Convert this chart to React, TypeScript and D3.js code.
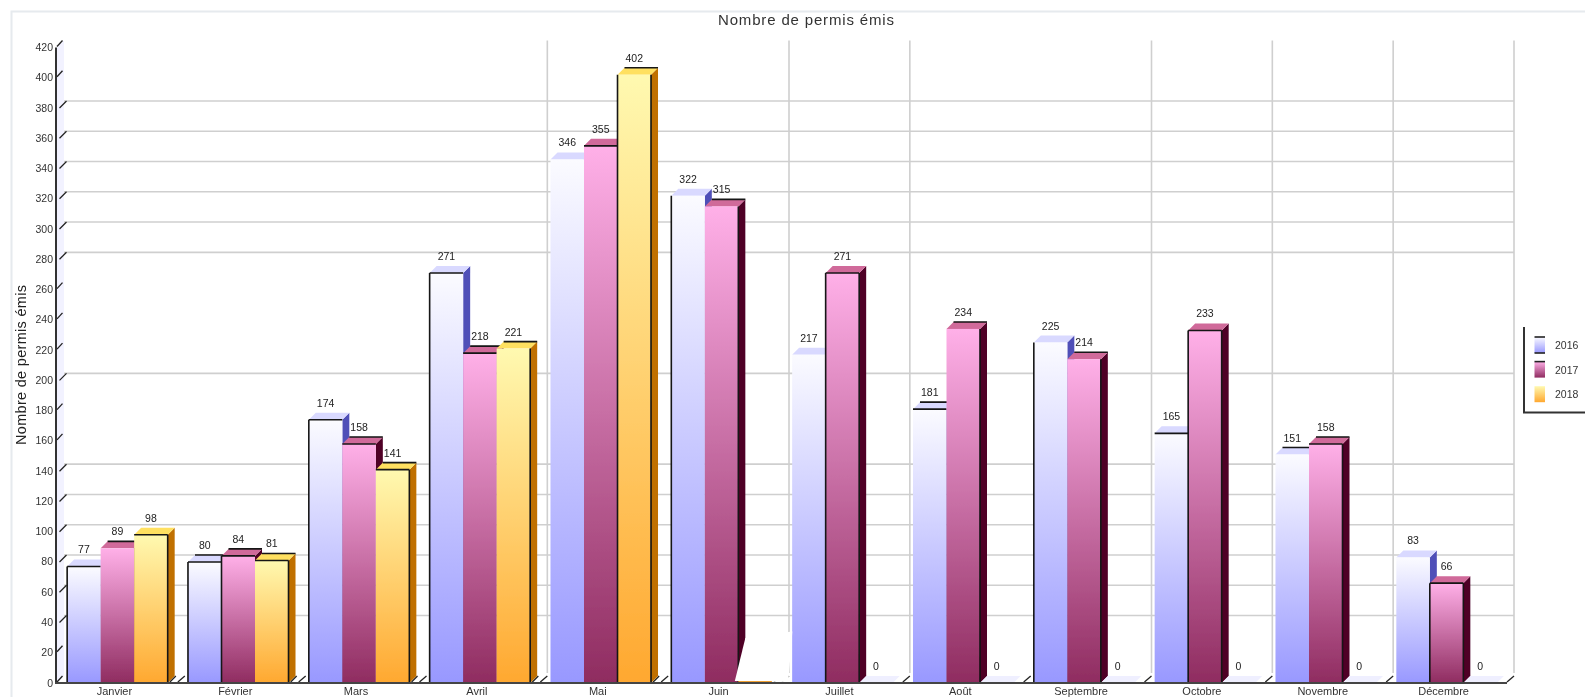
import React from "react";
import * as d3 from "d3";

const months = ["Janvier","Février","Mars","Avril","Mai","Juin","Juillet","Août","Septembre","Octobre","Novembre","Décembre"];
const years = ["2016","2017","2018"];
const values2016 = [77,80,174,271,346,322,217,181,225,165,151,83];
const values2017 = [89,84,158,218,355,315,271,234,214,233,158,66];
const values2018 = [98,81,141,221,402,0,0,0,0,0,0,0];
const series = [values2016, values2017, values2018];
const yTicks = d3.range(0, 421, 20);
const gridValues = [380,360,340,320,300,280,200,140,120,100,80,60,40];
const gridMonths = [4,6,7,9,10,11,12];

// which black edges survive in the (resampled) reference: "month-series"
const leftEdge = ["0-0","1-0","2-0","3-0","5-0","8-0","1-1","6-1","9-1","11-1","4-2"];
const rightEdge = ["0-2","1-2","2-2","3-2","4-2","5-1","6-1","7-1","8-1","9-1","10-1","11-1"];
const noFrontTop = ["0-1","4-0","4-2","5-0","5-1","6-0","8-0","10-0","11-0","3-2","7-1","8-1"];
const backTop = ["0-1","1-0","1-1","1-2","2-1","2-2","3-1","3-2","4-2","5-1","7-0","7-1","8-1","10-0","10-1"];

const W = 1585, H = 697;
const DX = 7, DY = 7;
const FONT = "'Liberation Sans', Arial, sans-serif";
const faces = [
  { id: "s0", top: "#fbfbff", bottom: "#9898ff", cap: "#d9d9ff", side: "#5050b8" },
  { id: "s1", top: "#ffb0e8", bottom: "#8f2c60", cap: "#d06a9a", side: "#4f0028" },
  { id: "s2", top: "#fff9b0", bottom: "#ffa830", cap: "#ffe060", side: "#c07000" },
];

const x = d3.scaleBand<string>().domain(months).range([57, 1507]).paddingInner(0.168).paddingOuter(0.084);
const sub = d3.scaleBand<string>().domain(years).range([0, x.bandwidth()]);
const y = d3.scaleLinear().domain([0, 420]).range([683, 47.5]);
const y0 = y(0);
const bw = sub.bandwidth();
const step = x.step();
const boundary = (k: number) => 57 + k * step;
const pts = (a: number[][]) => a.map((p) => p.join(",")).join(" ");
const INK = "#141414";

export default function App() {
  const bars = months.flatMap((m, mi) =>
    years.map((yr, si) => ({ m, mi, yr, si, v: series[si][mi], key: `${mi}-${si}`, bx: (x(m) as number) + (sub(yr) as number), by: y(series[si][mi]) }))
  );
  const juinX = (x("Juin") as number) + (sub("2018") as number);
  return (
    <svg width={W} height={H} viewBox={`0 0 ${W} ${H}`} style={{ position: "absolute", left: 0, top: 0, display: "block", background: "#fff" }} fontFamily={FONT}>
      <defs>
        {faces.map((f) => (
          <linearGradient key={f.id} id={f.id} x1="0" y1="0" x2="0" y2="1">
            <stop offset="0" stopColor={f.top} />
            <stop offset="1" stopColor={f.bottom} />
          </linearGradient>
        ))}
        <filter id="soft" x="-2%" y="-2%" width="104%" height="104%"><feGaussianBlur stdDeviation="0.55" /></filter>
      </defs>
      <g filter="url(#soft)">
        <path d={`M11.5,697V11.5H${W}`} fill="none" stroke="#e6eaee" strokeWidth={2} />
        <text x={806} y={25} textAnchor="middle" fontSize={15} textLength={176} lengthAdjust="spacing" fill="#333">Nombre de permis émis</text>
        <text transform={`translate(25.5,365) rotate(-90)`} textAnchor="middle" fontSize={14.5} textLength={160} lengthAdjust="spacing" fill="#222">Nombre de permis émis</text>

        <polygon points={pts([[57, y(420)], [57 + DX, y(420) - DY], [57 + DX, y0 - DY], [57, y0]])} fill="#f2f2ff" />

        {gridValues.map((v) => (
          <line key={v} x1={57 + DX} x2={boundary(12) + DX} y1={y(v) - DY} y2={y(v) - DY} stroke="#cfcfcf" strokeWidth={1.6} />
        ))}
        {gridMonths.map((k) => (
          <line key={k} x1={boundary(k) + DX} x2={boundary(k) + DX} y1={y(420) - DY} y2={y0 - DY - 3} stroke="#cfcfcf" strokeWidth={1.6} />
        ))}

        {yTicks.map((v) => {
          const g = gridValues.includes(v);
          return (
            <g key={v}>
              <line x1={g ? 59.5 : 57} x2={g ? 66.5 : 62.5} y1={y(v) + (g ? 0 : -1)} y2={y(v) - DY} stroke="#222" strokeWidth={1.3} />
              <text x={53} y={y(v) + 3.5} textAnchor="end" fontSize={10.5} fill="#333">{v}</text>
            </g>
          );
        })}

        {d3.range(1, 13).map((k) => (
          <g key={k}>
            <line x1={boundary(k)} x2={boundary(k) + DX} y1={y0 - 1} y2={y0 - DY} stroke="#222" strokeWidth={1.3} />
            {k <= 6 && <line x1={boundary(k) - 8} x2={boundary(k) - 2} y1={y0 - 1} y2={y0 - DY} stroke="#222" strokeWidth={1.3} />}
          </g>
        ))}

        {bars.map((b) => {
          const f = faces[b.si];
          if (b.v === 0) {
            return <polygon key={b.key} points={pts([[b.bx, y0], [b.bx + DX, y0 - DY], [b.bx + bw + DX, y0 - DY], [b.bx + bw, y0]])} fill="#efefff" />;
          }
          return (
            <g key={b.key}>
              <polygon points={pts([[b.bx + bw, b.by], [b.bx + bw + DX, b.by - DY], [b.bx + bw + DX, y0 - DY], [b.bx + bw, y0]])} fill={f.side} />
              <polygon points={pts([[b.bx, b.by], [b.bx + DX, b.by - DY], [b.bx + bw + DX, b.by - DY], [b.bx + bw, b.by]])} fill={f.cap} />
              <rect x={b.bx} y={b.by} width={bw} height={y0 - b.by} fill={`url(#${f.id})`} />
              {leftEdge.includes(b.key) && <line x1={b.bx} x2={b.bx} y1={b.by} y2={y0} stroke={INK} strokeWidth={1.6} />}
              {rightEdge.includes(b.key) && <line x1={b.bx + bw} x2={b.bx + bw} y1={b.by} y2={y0} stroke={INK} strokeWidth={1.6} />}
              {!noFrontTop.includes(b.key) && <line x1={b.bx} x2={b.bx + bw} y1={b.by} y2={b.by} stroke={INK} strokeWidth={1.6} />}
              {backTop.includes(b.key) && <line x1={b.bx + DX} x2={b.bx + bw + DX} y1={b.by - DY} y2={b.by - DY} stroke={INK} strokeWidth={1.6} />}
            </g>
          );
        })}

        {bars.map((b) => (
          <text key={b.key} x={b.bx + bw / 2} y={b.by - 13} textAnchor="middle" fontSize={10.5} fill="#222">{b.v}</text>
        ))}

        <path
          d={`M${juinX - 3.5},${y0 - 2} L${juinX + 7},${y0 - 45} L${juinX + 54},${y0 - 51.5} L${juinX + 50},${y0 - 1} Z`}
          fill="#fff"
        />
        <rect x={juinX} y={y0 - 2} width={bw} height={2} fill="#f0a030" />

        <line x1={56} x2={56} y1={y(420)} y2={y0 + 1} stroke="#333" strokeWidth={2} />
        <line x1={55} x2={boundary(12)} y1={y0} y2={y0} stroke="#444" strokeWidth={2} />

        {months.map((m) => (
          <text key={m} x={(x(m) as number) + x.bandwidth() / 2 - 3} y={695} textAnchor="middle" fontSize={11} fill="#333">{m}</text>
        ))}

        <path d={`M1524,327V412.5H${W}`} fill="none" stroke="#333" strokeWidth={2} />
        {years.map((yr, i) => {
          const ly = 337 + i * 24.6;
          return (
            <g key={yr}>
              <rect x={1534.5} y={ly} width={10.5} height={16} fill={`url(#${faces[i].id})`} />
              {i < 2 && <line x1={1534.5} x2={1545} y1={ly} y2={ly} stroke="#222" strokeWidth={1.6} />}
              {i === 0 && <line x1={1534.5} x2={1545} y1={ly + 16} y2={ly + 16} stroke="#222" strokeWidth={1.6} />}
              <text x={1555} y={ly + 12} fontSize={10.5} fill="#333">{yr}</text>
            </g>
          );
        })}
      </g>
    </svg>
  );
}
